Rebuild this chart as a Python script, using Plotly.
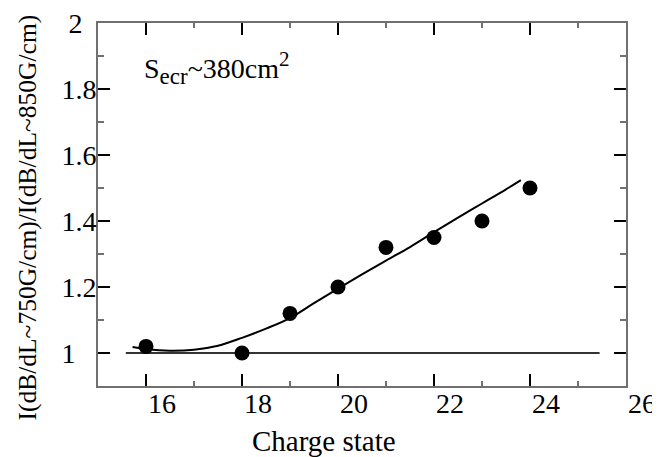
import plotly.graph_objects as go

# Data
charge_state = [16, 18, 19, 20, 21, 22, 23, 24]
ratio = [1.02, 1.00, 1.12, 1.20, 1.32, 1.35, 1.40, 1.50]

fit_x = [15.72, 16.0, 16.5, 17.0, 17.5, 18.0, 18.5, 19.0, 19.5, 20.0,
         20.5, 21.0, 21.5, 22.0, 22.5, 23.0, 23.5, 23.81]
fit_y = [1.018, 1.012, 1.007, 1.010, 1.022, 1.046, 1.074, 1.106, 1.151, 1.195,
         1.238, 1.280, 1.321, 1.366, 1.410, 1.453, 1.496, 1.524]

ref_x = [15.58, 25.45]
ref_y = [1.0, 1.0]

x_tickvals = [16, 18, 20, 22, 24, 26]
x_ticktext = ["16", "18", "20", "22", "24", "26"]
y_tickvals = [1.0, 1.2, 1.4, 1.6, 1.8, 2.0]
y_ticktext = ["1\u2008\u2007", "1.2", "1.4", "1.6", "1.8", "2\u2007"]

FONT = "Liberation Serif, Times New Roman, serif"

fig = go.Figure()
fig.add_trace(go.Scatter(x=ref_x, y=ref_y, mode="lines",
                         line=dict(color="#333333", width=2.2), hoverinfo="skip"))
fig.add_trace(go.Scatter(x=fit_x, y=fit_y, mode="lines",
                         line=dict(color="black", width=2, shape="spline"), hoverinfo="skip"))
fig.add_trace(go.Scatter(x=charge_state, y=ratio, mode="markers",
                         marker=dict(color="black", size=15)))

axis_common = dict(
    showgrid=False, zeroline=False, showline=True, linecolor="#707070", linewidth=2,
    mirror="allticks", ticks="inside", tickcolor="black", tickwidth=1.5, ticklen=12,
    tickfont=dict(family=FONT, size=28, color="black"), automargin=False,
    ticklabeloverflow="allow",
)

fig.update_xaxes(range=[15, 26], tickmode="array", tickvals=x_tickvals, ticktext=x_ticktext,
                 minor=dict(ticks="inside", ticklen=5, dtick=1, tick0=15, tickcolor="#707070", tickwidth=1.5),
                 ticklabelshift=16, ticklabelstandoff=-9, **axis_common)
fig.update_yaxes(range=[0.9, 2.0], tickmode="array", tickvals=y_tickvals, ticktext=y_ticktext,
                 minor=dict(ticks="inside", ticklen=6, dtick=0.1, tick0=0.9, tickcolor="#707070", tickwidth=1.5),
                 ticklabelstandoff=-6, **axis_common)

fig.add_annotation(text="Charge state", xref="paper", yref="paper",
                   x=0.428, y=-0.152, xanchor="center", yanchor="middle", showarrow=False,
                   font=dict(family=FONT, size=29, color="black"))
fig.add_annotation(text="I(dB/dL~750G/cm)/I(dB/dL~850G/cm)", xref="paper", yref="paper",
                   x=-0.1326, y=0.464, xanchor="center", yanchor="middle", textangle=-90,
                   showarrow=False, font=dict(family=FONT, size=25.5, color="black"))
fig.add_annotation(text="S<sub><span style=\"font-size:23px\">ecr</span></sub>~380cm<sup><span style=\"font-size:21px\">2</span></sup>",
                   xref="paper", yref="paper",
                   x=0.083, y=0.875, xanchor="left", yanchor="middle", showarrow=False,
                   font=dict(family=FONT, size=28, color="black"))

# The page body adds an 8 px offset, so the figure is 8 px smaller and margins shifted.
fig.update_layout(
    width=652, height=449,
    margin=dict(l=90, r=34, t=15, b=71),
    paper_bgcolor="white", plot_bgcolor="white",
    showlegend=False,
)

fig.write_html("out.html")
